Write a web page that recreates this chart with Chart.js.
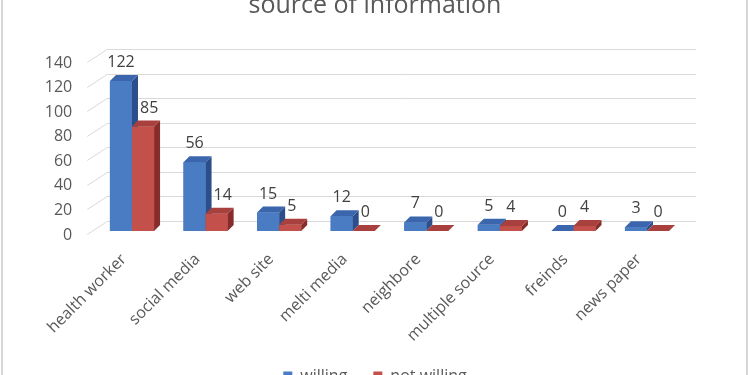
<!DOCTYPE html>
<html>
<head>
<meta charset="utf-8">
<script src="https://cdn.jsdelivr.net/npm/chart.js@4/dist/chart.umd.min.js"></script>
<style>
  html, body { margin: 0; padding: 0; background: #ffffff; overflow: hidden; width: 750px; height: 375px; }
  #wrap { position: absolute; left: 0; top: -12px; width: 750px; height: 406px; }
  #frame { position: absolute; left: 1px; top: 0; width: 747px; height: 375px; box-sizing: border-box;
           border-left: 2px solid #d6d6d6; border-right: 2px solid #d6d6d6; pointer-events: none; }
</style>
</head>
<body>
<div id="wrap"><canvas id="c" width="750" height="406"></canvas></div>
<div id="frame"></div>
<script>
const categories = ['health worker', 'social media', 'web site', 'melti media', 'neighbore', 'multiple source', 'freinds', 'news paper'];
const willing = [122, 56, 15, 12, 7, 5, 0, 3];
const notWilling = [85, 14, 5, 0, 0, 4, 4, 0];
const yMin = 0, yMax = 140, yStep = 20;
const seriesNames = ['willing', 'not willing'];

const FONT = "'Open Sans', 'DejaVu Sans', sans-serif";
const palette = [
  { front: '#4a7cc4', top: '#3b65ad', side: '#2c4f8c' },
  { front: '#c4504c', top: '#a8403d', side: '#862c2a' }
];
const depth = { dx: 6, dy: -6 };
const wall = { dx: 12, dy: -10, sx: -8, sy: 3 };

const bars3d = {
  id: 'bars3d',
  beforeDatasetsDraw(chart) {
    const { ctx, chartArea: { left, right }, scales: { y } } = chart;
    ctx.save();
    ctx.strokeStyle = '#d9d9d9';
    ctx.lineWidth = 1;
    y.ticks.forEach(t => {
      const py = Math.round(y.getPixelForValue(t.value)) + 0.5;
      ctx.beginPath();
      ctx.moveTo(left + wall.sx, py + wall.sy);
      ctx.lineTo(left + wall.dx, py + wall.dy);
      ctx.lineTo(right + wall.dx, py + wall.dy);
      ctx.stroke();
    });
    ctx.restore();
  },
  afterDatasetsDraw(chart) {
    const { ctx } = chart;
    const metas = chart.data.datasets.map((d, i) => chart.getDatasetMeta(i));
    ctx.save();
    for (let i = 0; i < categories.length; i++) {
      metas.forEach((meta, di) => {
        const el = meta.data[i];
        const { x, y, base, width } = el.getProps(['x', 'y', 'base', 'width'], true);
        const l = x - width / 2, r = x + width / 2;
        const c = palette[di];
        ctx.fillStyle = c.front;
        ctx.fillRect(l, y, width, base - y);
        ctx.fillStyle = c.side;
        ctx.beginPath();
        ctx.moveTo(r, y); ctx.lineTo(r + depth.dx, y + depth.dy);
        ctx.lineTo(r + depth.dx, base + depth.dy); ctx.lineTo(r, base);
        ctx.closePath(); ctx.fill();
        ctx.fillStyle = c.top;
        ctx.beginPath();
        ctx.moveTo(l, y); ctx.lineTo(l + depth.dx, y + depth.dy);
        ctx.lineTo(r + depth.dx, y + depth.dy); ctx.lineTo(r, y);
        ctx.closePath(); ctx.fill();
      });
    }
    // data labels
    ctx.font = '16px ' + FONT;
    ctx.fillStyle = '#404040';
    ctx.textBaseline = 'alphabetic';
    ctx.textAlign = 'left';
    for (let i = 0; i < categories.length; i++) {
      metas.forEach((meta, di) => {
        const el = meta.data[i];
        const { x, y, width } = el.getProps(['x', 'y', 'width'], true);
        const txt = String(chart.data.datasets[di].data[i]);
        const tw = ctx.measureText(txt).width;
        let lx = x - tw / 2;
        const baseY = y - 14;
        if (di > 0) {
          const prev = metas[di - 1].data[i].getProps(['x', 'y', 'width'], true);
          if (prev.y + depth.dy < baseY) {
            const minL = prev.x + prev.width / 2 + depth.dx + 2;
            if (lx < minL) lx = minL;
          }
        }
        ctx.fillText(txt, lx, baseY);
      });
    }
    ctx.restore();
  }
};

new Chart(document.getElementById('c'), {
  type: 'bar',
  data: {
    labels: categories,
    datasets: [
      { label: seriesNames[0], data: willing, backgroundColor: palette[0].front },
      { label: seriesNames[1], data: notWilling, backgroundColor: palette[1].front }
    ]
  },
  options: {
    responsive: false,
    animation: false,
    devicePixelRatio: 1,
    layout: { padding: 0 },
    categoryPercentage: 0.6,
    barPercentage: 1.0,
    plugins: {
      tooltip: { enabled: false },
      title: {
        display: true,
        text: 'source of information',
        color: '#595959',
        font: { family: FONT, size: 25, weight: 'normal', lineHeight: 1.2 },
        padding: { top: 3, bottom: 38 }
      },
      legend: {
        display: true,
        position: 'bottom',
        labels: {
          color: '#595959',
          font: { family: FONT, size: 16 },
          boxWidth: 9,
          boxHeight: 9,
          padding: 26
        }
      }
    },
    scales: {
      x: {
        grid: { display: false, drawTicks: false },
        border: { display: false },
        ticks: {
          color: '#595959',
          font: { family: FONT, size: 16 },
          autoSkip: false,
          minRotation: 45,
          maxRotation: 45,
          padding: 19,
          labelOffset: -8
        },
        afterFit(scale) { scale.height = 111; }
      },
      y: {
        min: yMin,
        max: yMax,
        grid: { display: false, drawTicks: false },
        border: { display: false },
        ticks: {
          stepSize: yStep,
          color: '#595959',
          font: { family: FONT, size: 16 },
          padding: 23,
          labelOffset: 4
        },
        afterFit(scale) { scale.width = 95.2; }
      },
      yRight: {
        position: 'right',
        display: true,
        min: yMin,
        max: yMax,
        grid: { display: false, drawTicks: false },
        border: { display: false },
        ticks: { display: false },
        afterFit(scale) { scale.width = 66.2; }
      }
    }
  },
  plugins: [bars3d]
});
</script>
</body>
</html>
